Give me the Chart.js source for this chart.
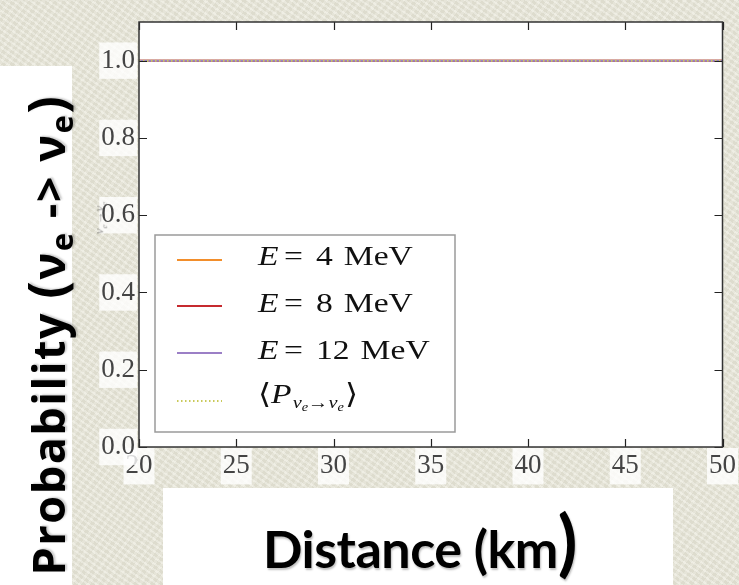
<!DOCTYPE html>
<html>
<head>
<meta charset="utf-8">
<script src="https://cdn.jsdelivr.net/npm/chart.js@4.4.1/dist/chart.umd.min.js"></script>
<style>
  html, body { margin: 0; padding: 0; }
  body {
    width: 739px; height: 585px; overflow: hidden; position: relative;
    background-color: #e7e5d7;
    background-image:
      repeating-linear-gradient(35deg, rgba(255,255,255,0.22) 0 2px, rgba(0,0,0,0.025) 2px 5px),
      repeating-linear-gradient(-55deg, rgba(255,255,255,0.16) 0 3px, rgba(0,0,0,0.02) 3px 7px);
  }
  #wrap { position: absolute; left: 0; top: 0; width: 739px; height: 585px; }
  .box { position: absolute; background: #fff; }
  #ybox { left: 0; top: 66px; width: 72px; height: 519px; }
  #xbox { left: 163px; top: 488px; width: 510px; height: 97px; }
  #ytitle {
    position: absolute; left: 46px; top: 335px;
    transform: translate(-50%, -50%) rotate(-90deg);
    white-space: nowrap; font-family: "Open Sans", Lato, sans-serif; font-weight: 700;
    font-size: 45px; color: #000; line-height: 50px; letter-spacing: 1.5px;
    text-shadow: 1px 2px 2px rgba(0,0,0,0.2);
  }
  #ytitle sub { font-size: 31px; vertical-align: -8px; line-height: 0; }
  #ytitle .par { font-size: 52px; }
  #xtitle {
    position: absolute; left: 160px; top: 500px; width: 520px; text-align: center;
    font-family: Lato, "Open Sans", sans-serif; font-weight: 700; font-size: 52px; color: #000;
    line-height: 80px; letter-spacing: -0.5px; text-shadow: 1px 2px 2px rgba(0,0,0,0.25);
  }
  #xtitle .fecha { font-size: 72px; }
  #ylabelmpl {
    position: absolute; left: 100px; top: 218px;
    transform: translate(-50%, -50%) rotate(-90deg);
    font-family: "Liberation Serif", serif; font-style: italic; font-size: 13px; color: rgba(90,90,90,0.55);
    white-space: nowrap;
  }
  #ylabelmpl sub { font-size: 9px; }
</style>
</head>
<body>
<div id="wrap"><canvas id="chartProb" width="739" height="585"></canvas></div>
<div class="box" id="ybox"></div>
<div class="box" id="xbox"></div>
<div id="ylabelmpl">ν<sub>e</sub>→ν<sub>e</sub></div>
<div id="ytitle">Probability <span class="par">(</span>ν<sub>e</sub> -&gt; ν<sub>e</sub><span class="par">)</span></div>
<div id="xtitle">Distance (km<span class="fecha">)</span></div>
<script>
// distancias (km) e probabilidade de sobrevivencia
var distancias = [20, 25, 30, 35, 40, 45, 50];
var prob4MeV  = [1.0, 1.0, 1.0, 1.0, 1.0, 1.0, 1.0];
var prob8MeV  = [1.0, 1.0, 1.0, 1.0, 1.0, 1.0, 1.0];
var prob12MeV = [1.0, 1.0, 1.0, 1.0, 1.0, 1.0, 1.0];
var probMedia = [1.0, 1.0, 1.0, 1.0, 1.0, 1.0, 1.0];

var legendas = ['E = 4 MeV', 'E = 8 MeV', 'E = 12 MeV', '<P>'];
var xTicks = [20, 25, 30, 35, 40, 45, 50];
var yTicks = [0.0, 0.2, 0.4, 0.6, 0.8, 1.0];

function pontos(ys) {
    return distancias.map(function (d, i) { return { x: d, y: ys[i] }; });
}

var serif = '"Liberation Serif", "DejaVu Serif", serif';
Chart.defaults.font.family = serif;
Chart.defaults.font.size = 27;

// fundo branco da area do grafico
var fundoPlugin = {
    id: 'fundo',
    beforeDraw: function (chart) {
        var a = chart.chartArea, ctx = chart.ctx;
        ctx.save();
        ctx.fillStyle = '#ffffff';
        ctx.fillRect(a.left, a.top, a.right - a.left, a.bottom - a.top);
        ctx.restore();
    }
};

// ticks para dentro nos quatro lados (estilo matplotlib)
var ticksPlugin = {
    id: 'ticksDentro',
    afterDatasetsDraw: function (chart) {
        var a = chart.chartArea, ctx = chart.ctx;
        var sx = chart.scales.x, sy = chart.scales.y;
        ctx.save();
        ctx.strokeStyle = '#222';
        ctx.lineWidth = 1.2;
        ctx.beginPath();
        xTicks.forEach(function (v) {
            var px = Math.round(sx.getPixelForValue(v)) + 0.5;
            ctx.moveTo(px, a.bottom); ctx.lineTo(px, a.bottom - 8);
            ctx.moveTo(px, a.top); ctx.lineTo(px, a.top + 8);
        });
        yTicks.forEach(function (v) {
            var py = Math.round(sy.getPixelForValue(v)) + 0.5;
            ctx.moveTo(a.left, py); ctx.lineTo(a.left + 8, py);
            ctx.moveTo(a.right, py); ctx.lineTo(a.right - 8, py);
        });
        ctx.stroke();
        ctx.strokeStyle = '#333';
        ctx.lineWidth = 1.5;
        ctx.strokeRect(a.left, a.top, a.right - a.left, a.bottom - a.top);
        ctx.restore();
    }
};

// escreve um pedaco de texto esticado na horizontal e devolve a largura
var estica = 1.2;
function pedaco(ctx, txt, font, x, y) {
    ctx.font = font;
    ctx.save();
    ctx.translate(x, y);
    ctx.scale(estica, 1);
    ctx.fillText(txt, 0, 0);
    ctx.restore();
    return ctx.measureText(txt).width * estica;
}

function textoLegenda(ctx, label, x, y) {
    var f = '28px ' + serif, fi = 'italic 28px ' + serif;
    var fs = 'italic 17px ' + serif, fss = 'italic 12px ' + serif;
    ctx.textBaseline = 'middle';
    ctx.textAlign = 'left';
    ctx.fillStyle = '#111';
    if (label === '<P>') {
        x += pedaco(ctx, '\u27E8', f, x, y);
        x += pedaco(ctx, 'P', fi, x, y) + 1;
        x += pedaco(ctx, '\u03BD', fs, x, y + 8);
        x += pedaco(ctx, 'e', fss, x, y + 12);
        x += pedaco(ctx, '\u2192', '17px ' + serif, x, y + 8);
        x += pedaco(ctx, '\u03BD', fs, x, y + 8);
        x += pedaco(ctx, 'e', fss, x, y + 12) + 1;
        pedaco(ctx, '\u27E9', f, x, y);
        return;
    }
    var partes = label.split(' ');  // ['E', '=', '4', 'MeV']
    pedaco(ctx, partes[0], fi, x, y);
    pedaco(ctx, partes[1], f, x + 26, y);
    var w = pedaco(ctx, partes[2], f, x + 58, y);
    pedaco(ctx, partes[3], f, x + 58 + w + 11, y);
}

// legenda desenhada dentro do grafico
var legendaPlugin = {
    id: 'legendaInterna',
    afterDraw: function (chart) {
        var ctx = chart.ctx;
        var bx = 155, by = 235, bw = 300, bh = 197;
        ctx.save();
        ctx.fillStyle = '#ffffff';
        ctx.fillRect(bx, by, bw, bh);
        ctx.strokeStyle = '#9a9a9a';
        ctx.lineWidth = 1.5;
        ctx.strokeRect(bx, by, bw, bh);
        var linhasY = [260, 306, 353, 401];
        var textoY = [258, 305, 352, 396];
        chart.data.datasets.forEach(function (ds, i) {
            var y = linhasY[i];
            ctx.strokeStyle = ds.borderColor;
            ctx.lineWidth = ds.borderWidth;
            ctx.setLineDash(ds.borderDash || []);
            ctx.beginPath();
            ctx.moveTo(177, y); ctx.lineTo(222, y);
            ctx.stroke();
            ctx.setLineDash([]);
            textoLegenda(ctx, ds.label, 258, textoY[i]);
        });
        ctx.restore();
    }
};

var ctx = document.getElementById('chartProb').getContext('2d');

var data = {
    datasets: [{
        label: legendas[0],
        data: pontos(prob4MeV),
        borderColor: '#f28e2b',
        borderWidth: 2,
        order: 4
    }, {
        label: legendas[1],
        data: pontos(prob8MeV),
        borderColor: '#c62a2f',
        borderWidth: 2,
        order: 3
    }, {
        label: legendas[2],
        data: pontos(prob12MeV),
        borderColor: '#9b7fc6',
        borderWidth: 2,
        order: 2
    }, {
        label: legendas[3],
        data: pontos(probMedia),
        borderColor: '#c9c95a',
        borderWidth: 2,
        borderDash: [1.5, 2.5],
        order: 1
    }]
};

var fonteTicks = { family: serif, size: 27 };

var options = {
    responsive: false,
    animation: false,
    layout: { padding: { left: 0, top: 22, right: 16, bottom: 0 } },
    elements: { point: { radius: 0 }, line: { tension: 0 } },
    plugins: { legend: { display: false }, tooltip: { enabled: false } },
    scales: {
        x: {
            type: 'linear',
            min: 20,
            max: 50,
            afterBuildTicks: function (s) { s.ticks = xTicks.map(function (v) { return { value: v }; }); },
            afterFit: function (s) { s.height = 138; },
            grid: { display: false, drawTicks: false },
            border: { display: false },
            ticks: {
                color: '#444',
                padding: 3,
                font: fonteTicks,
                showLabelBackdrop: true,
                backdropColor: 'rgba(255,255,255,0.8)',
                backdropPadding: 2
            }
        },
        y: {
            type: 'linear',
            min: 0,
            max: 1.1,
            afterBuildTicks: function (s) { s.ticks = yTicks.map(function (v) { return { value: v }; }); },
            afterFit: function (s) { s.width = 139; },
            grid: { display: false, drawTicks: false },
            border: { display: false },
            ticks: {
                color: '#444',
                padding: 4,
                font: fonteTicks,
                callback: function (v) { return v.toFixed(1); },
                showLabelBackdrop: true,
                backdropColor: 'rgba(255,255,255,0.8)',
                backdropPadding: 2
            }
        }
    }
};

var grafico = new Chart(ctx, {
    type: 'line',
    data: data,
    options: options,
    plugins: [fundoPlugin, ticksPlugin, legendaPlugin]
});
</script>
</body>
</html>
